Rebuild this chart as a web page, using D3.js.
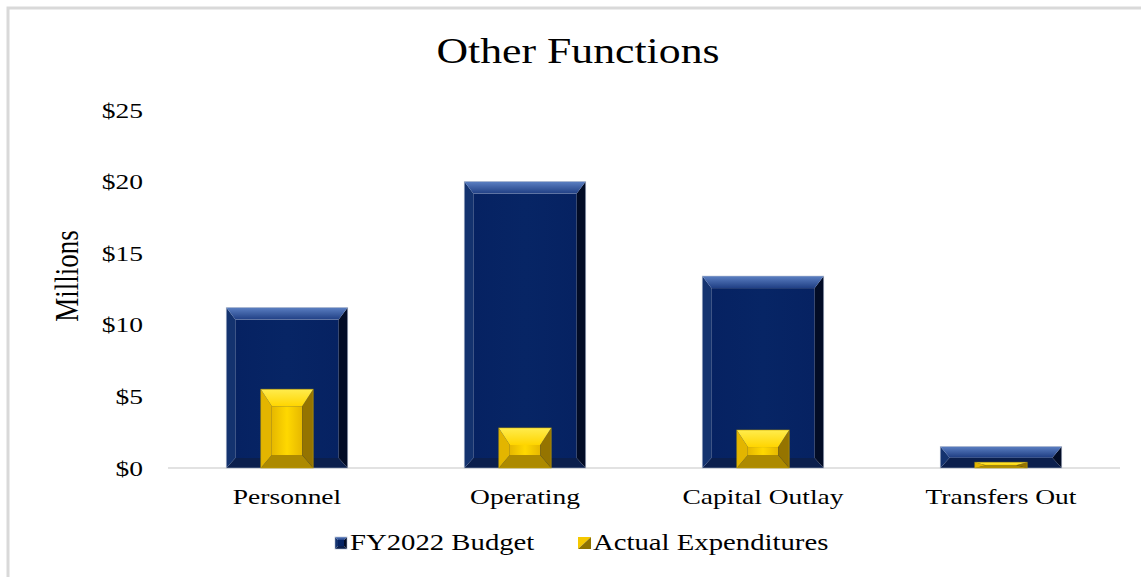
<!DOCTYPE html>
<html>
<head>
<meta charset="utf-8">
<script src="https://cdn.jsdelivr.net/npm/d3@7"></script>
<style>
  html, body { margin: 0; padding: 0; background: #fff; }
  svg { display: block; }
  text { font-family: "Liberation Serif", "Times New Roman", serif; fill: #000; }
</style>
</head>
<body>
<svg id="chart" width="1141" height="577"></svg>
<script>
// Chart data (millions of dollars)
const categories = ["Personnel", "Operating", "Capital Outlay", "Transfers Out"];
const budget = [11.2, 20.0, 13.4, 1.5];
const actual = [5.5, 2.8, 2.65, 0.4];
const yTicks = [0, 5, 10, 15, 20, 25];
const seriesNames = ["FY2022 Budget", "Actual Expenditures"];
const chartTitle = "Other Functions";
const axisTitle = "Millions";

const W = 1141, H = 577;
const TX = 1.25; // horizontal text stretch
const svg = d3.select("#chart");

const margin = { left: 168, right: 21, top: 110, bottom: 109 };
const x = d3.scaleBand().domain(categories)
  .range([margin.left, W - margin.right])
  .paddingInner(0.49).paddingOuter(0.245);
const y = d3.scaleLinear().domain([0, 25]).range([H - margin.bottom, margin.top]);

// Outer frame (left + top edges visible)
svg.append("path")
  .attr("d", `M8,${H} L8,8 L${W},8`)
  .attr("fill", "none").attr("stroke", "#d9d9d9").attr("stroke-width", 3);

// Palettes for bevelled bars
const palettes = {
  budget: { face: "#072565", faceEdge: "#062262", top: ["#5b7fc2", "#203f84"], left: "#14336f", right: "#020c26", bottom: "#0b1f4d", stroke: "#a6b2c8" },
  actual: { face: "#ffd800", faceEdge: "#e6b800", top: ["#ffec4d", "#ffd500"], left: "#e3b500", right: "#957400", bottom: "#ad8a00", stroke: "#c9a500" }
};

const defs = svg.append("defs");
Object.entries(palettes).forEach(([k, p]) => {
  const gTop = defs.append("linearGradient").attr("id", "top-" + k).attr("x1", 0).attr("y1", 0).attr("x2", 0).attr("y2", 1);
  gTop.append("stop").attr("offset", "0%").attr("stop-color", p.top[0]);
  gTop.append("stop").attr("offset", "100%").attr("stop-color", p.top[1]);
  const gFace = defs.append("linearGradient").attr("id", "face-" + k).attr("x1", 0).attr("y1", 0).attr("x2", 1).attr("y2", 0);
  gFace.append("stop").attr("offset", "0%").attr("stop-color", p.faceEdge);
  gFace.append("stop").attr("offset", "50%").attr("stop-color", p.face);
  gFace.append("stop").attr("offset", "100%").attr("stop-color", p.faceEdge);
});

function bevelBar(g, bx, by, bw, bh, key, bt, bs, bb) {
  const p = palettes[key];
  const half = bh / 2;
  bt = Math.min(bt, half); bb = Math.min(bb, half);
  bs = Math.min(bs, bw / 2);
  const x0 = bx, x1 = bx + bw, y0 = by, y1 = by + bh;
  const pts = a => a.map(d => d.join(",")).join(" ");
  g.append("rect").attr("x", x0 + bs).attr("y", y0 + bt)
    .attr("width", Math.max(0, bw - 2 * bs)).attr("height", Math.max(0, bh - bt - bb))
    .attr("fill", `url(#face-${key})`);
  g.append("polygon").attr("points", pts([[x0, y1], [x1, y1], [x1 - bs, y1 - bb], [x0 + bs, y1 - bb]])).attr("fill", p.bottom);
  g.append("polygon").attr("points", pts([[x0, y0], [x0 + bs, y0 + bt], [x0 + bs, y1 - bb], [x0, y1]])).attr("fill", p.left);
  g.append("polygon").attr("points", pts([[x1, y0], [x1 - bs, y0 + bt], [x1 - bs, y1 - bb], [x1, y1]])).attr("fill", p.right);
  g.append("polygon").attr("points", pts([[x0, y0], [x1, y0], [x1 - bs, y0 + bt], [x0 + bs, y0 + bt]])).attr("fill", `url(#top-${key})`);
  g.append("rect").attr("x", x0).attr("y", y0).attr("width", bw).attr("height", bh)
    .attr("fill", "none").attr("stroke", p.stroke).attr("stroke-width", 0.8).attr("stroke-opacity", 0.7);
}

// Baseline
svg.append("line")
  .attr("x1", margin.left).attr("x2", W - margin.right)
  .attr("y1", y(0)).attr("y2", y(0))
  .attr("stroke", "#d9d9d9").attr("stroke-width", 1.5);

// Budget bars
const bars = svg.append("g");
categories.forEach((c, i) => {
  bevelBar(bars, x(c), y(budget[i]), x.bandwidth(), y(0) - y(budget[i]), "budget", 12, 9, 10);
});
// Actual expenditure bars, narrower and centred in each band
const aw = x.step() * 0.22;
categories.forEach((c, i) => {
  const cx = x(c) + x.bandwidth() / 2;
  bevelBar(bars, cx - aw / 2, y(actual[i]), aw, y(0) - y(actual[i]), "actual", 17, 11, 13);
});

// Y axis tick labels
const yAxis = svg.append("g").attr("transform", `translate(${margin.left},0)`)
  .call(d3.axisLeft(y).tickValues(yTicks).tickSize(0).tickPadding(0).tickFormat(d => "$" + d));
yAxis.select(".domain").remove();
yAxis.selectAll("text")
  .attr("x", null)
  .attr("transform", `translate(-25,0) scale(${TX},1)`)
  .style("font-family", "'Liberation Serif', serif").style("font-size", "22px").attr("fill", "#000");

// X axis category labels
const xAxis = svg.append("g").attr("transform", `translate(0,${y(0)})`)
  .call(d3.axisBottom(x).tickSize(0).tickPadding(0));
xAxis.select(".domain").remove();
xAxis.selectAll("text")
  .attr("y", null).attr("dy", null)
  .attr("transform", `translate(0,36) scale(${TX},1)`)
  .style("font-family", "'Liberation Serif', serif").style("font-size", "22px").attr("fill", "#000");

// Title
svg.append("text").attr("transform", `translate(578,63) scale(${TX},1)`)
  .attr("text-anchor", "middle").style("font-size", "35px").text(chartTitle);

// Y axis title
svg.append("text").attr("transform", `translate(78,276) scale(${TX},1) rotate(-90)`)
  .attr("text-anchor", "middle").style("font-size", "27px").text(axisTitle);

// Legend
const legend = svg.append("g");
const items = [{ name: seriesNames[0], key: "budget", x: 335 }, { name: seriesNames[1], key: "actual", x: 578 }];
items.forEach(it => {
  const g = legend.append("g").attr("transform", `translate(${it.x},537)`);
  if (it.key === "budget") {
    bevelBar(g, 0, 0, 12, 12, "budget", 3, 3, 3);
  } else {
    g.append("polygon").attr("points", "0,0 13,0 0,12").attr("fill", "#f5c800");
    g.append("polygon").attr("points", "13,0 13,12 0,12").attr("fill", "#8f7300");
  }
  g.append("text").attr("transform", `translate(15,13) scale(${TX},1)`)
    .style("font-size", "23px").text(it.name);
});
</script>
</body>
</html>
